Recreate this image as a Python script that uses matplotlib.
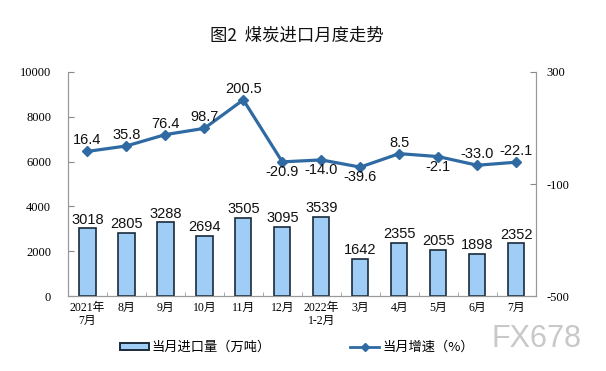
import matplotlib
matplotlib.use("Agg")
import matplotlib.pyplot as plt
from matplotlib.patches import Patch
from matplotlib.lines import Line2D

plt.rcParams['font.family'] = ['Liberation Sans', 'Noto Sans CJK SC', 'DejaVu Sans']

categories = ["2021年\n7月", "8月", "9月", "10月", "11月", "12月", "2022年\n1-2月",
              "3月", "4月", "5月", "6月", "7月"]
imports = [3018, 2805, 3288, 2694, 3505, 3095, 3539, 1642, 2355, 2055, 1898, 2352]
growth = [16.4, 35.8, 76.4, 98.7, 200.5, -20.9, -14.0, -39.6, 8.5, -2.1, -33.0, -22.1]
growth_labels = ["16.4", "35.8", "76.4", "98.7", "200.5", "-20.9", "-14.0", "-39.6",
                 "8.5", "-2.1", "-33.0", "-22.1"]
label_below = [False, False, False, False, False, True, True, True, False, True, False, False]
left_ticks = [0, 2000, 4000, 6000, 8000, 10000]
right_ticks = [-500, -100, 300]

title = "图2  煤炭进口月度走势"
legend_bar = "当月进口量（万吨）"
legend_line = "当月增速（%）"

cjk = ['Noto Sans CJK SC', 'DejaVu Sans']
serif = ['Liberation Serif', 'Noto Sans CJK SC', 'DejaVu Sans']

fig = plt.figure(figsize=(6.06, 3.71), dpi=100)
ax = fig.add_axes([0.112, 0.202, 0.772, 0.604])
ax2 = ax.twinx()

x = list(range(len(categories)))
bar_color = "#9fcdf5"
edge = "#1a2a3a"
line_color = "#2f6aa3"

ax.bar(x, imports, width=0.42, color=bar_color, edgecolor=edge, linewidth=1.2, zorder=2)
for xi, v in zip(x, imports):
    ax.text(xi, v + 80, f"{v}", ha="center", va="bottom", fontsize=10.5, color="#111111")

ax.set_ylim(0, 10000)
ax.set_xlim(-0.5, len(categories) - 0.5)
ax.set_yticks(left_ticks)
ax.set_yticklabels([str(t) for t in left_ticks], family=serif, fontsize=9)
ax.set_xticks(x)
ax.set_xticklabels(categories, family=serif, fontsize=8.5, linespacing=1.2)
ax.set_xticks([i + 0.5 for i in x[:-1]], minor=True)
ax.tick_params(axis="x", which="major", length=0, pad=4)
ax.tick_params(axis="x", which="minor", length=3, direction="in", color="#999999")
ax.tick_params(axis="y", length=4, direction="in", color="#888888", pad=12)

ax2.plot(x, growth, color=line_color, linewidth=2.3, marker="D", markersize=5,
         markerfacecolor=line_color, markeredgecolor=line_color, zorder=3)
ax2.set_ylim(-500, 300)
ax2.set_yticks(right_ticks)
ax2.set_yticklabels([str(t) for t in right_ticks], family=serif, fontsize=9)
ax2.tick_params(axis="y", length=4, direction="in", color="#888888", pad=8)
for xi, v, lab, below in zip(x, growth, growth_labels, label_below):
    if below:
        ax2.text(xi, v - 12, lab, ha="center", va="top", fontsize=10.5, color="#111111")
    else:
        ax2.text(xi, v + 14, lab, ha="center", va="bottom", fontsize=10.5, color="#111111")

for a in (ax, ax2):
    a.spines["top"].set_visible(False)
    for s in ("left", "right", "bottom"):
        a.spines[s].set_color("#999999")
        a.spines[s].set_linewidth(0.8)

fig.text(0.49, 0.905, title, ha="center", va="center", fontsize=12.5, family=cjk,
         fontweight="normal", color="#111111")

handles = [Patch(facecolor=bar_color, edgecolor=edge, linewidth=1.4),
           Line2D([0], [0], color=line_color, linewidth=2, marker="D", markersize=4)]
leg = fig.legend(handles, [legend_bar, legend_line], loc="center", bbox_to_anchor=(0.49, 0.063),
                 ncol=2, frameon=False, prop={"family": cjk, "size": 9.5},
                 handlelength=2.2, handleheight=0.5, columnspacing=6, handletextpad=0.2)

fig.text(0.885, 0.085, "FX678", ha="center", va="center", fontsize=22, color="#c8c8c8",
         family=["Liberation Sans"])

fig.savefig("out.png", dpi=100)
